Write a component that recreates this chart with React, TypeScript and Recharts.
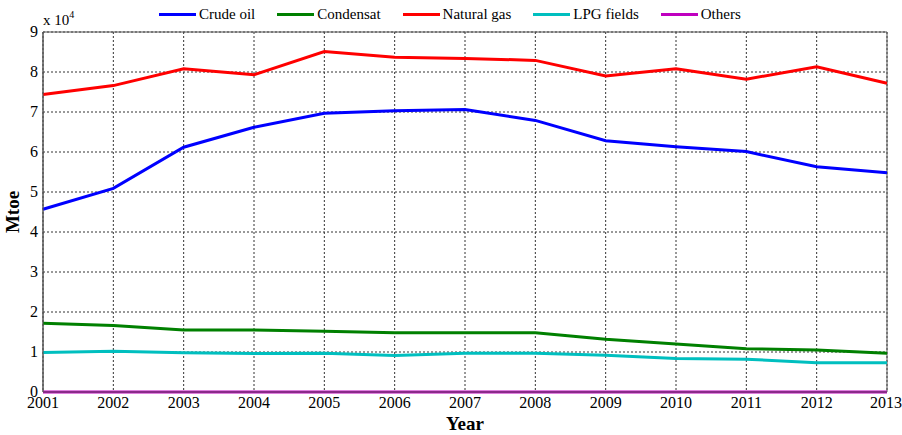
import React from "react";
import { LineChart, Line, XAxis, YAxis, CartesianGrid, ReferenceArea } from "recharts";

const years = [2001, 2002, 2003, 2004, 2005, 2006, 2007, 2008, 2009, 2010, 2011, 2012, 2013];
const crudeOil = [45700, 50900, 61200, 66200, 69700, 70300, 70600, 67900, 62800, 61300, 60100, 56300, 54800];
const condensat = [17200, 16600, 15500, 15500, 15200, 14800, 14800, 14800, 13200, 12000, 10800, 10500, 9700];
const naturalGas = [74400, 76600, 80800, 79300, 85100, 83700, 83400, 82900, 79000, 80800, 78200, 81300, 77200];
const lpgFields = [9900, 10200, 9800, 9600, 9700, 9100, 9700, 9700, 9200, 8400, 8200, 7300, 7300];
const others = [0, 0, 0, 0, 0, 0, 0, 0, 0, 0, 0, 0, 0];
const yTicks = [0, 10000, 20000, 30000, 40000, 50000, 60000, 70000, 80000, 90000];

const series = [
  { key: "crude", name: "Crude oil", color: "#0000FF", values: crudeOil },
  { key: "cond", name: "Condensat", color: "#008000", values: condensat },
  { key: "gas", name: "Natural gas", color: "#FF0000", values: naturalGas },
  { key: "lpg", name: "LPG fields", color: "#00BFBF", values: lpgFields },
  { key: "others", name: "Others", color: "#BF00BF", values: others },
];

const data = years.map((y, i) => {
  const row: Record<string, number> = { year: y };
  series.forEach((s) => (row[s.key] = s.values[i]));
  return row;
});

const FONT = "Liberation Serif, Times New Roman, serif";

const XTick = (props: any) => {
  const { x, y, payload } = props;
  return (
    <text x={x} y={y + 16} textAnchor="middle" fontFamily={FONT} fontSize={16} fill="#000">
      {payload.value}
    </text>
  );
};

const YTick = (props: any) => {
  const { x, y, payload } = props;
  return (
    <text x={x - 1} y={y + 5} textAnchor="end" fontFamily={FONT} fontSize={16} fill="#000">
      {String(payload.value / 10000)}
    </text>
  );
};

export default function App() {
  return (
    <div style={{ position: "absolute", left: 0, top: 0, width: 902, height: 435, background: "#fff", fontFamily: FONT }}>
      <LineChart width={902} height={435} data={data} margin={{ top: 32, right: 15, left: 0, bottom: 0 }}>
        <CartesianGrid stroke="#333" strokeDasharray="2 2" strokeWidth={1} />
        <ReferenceArea x1={2001} x2={2013} y1={0} y2={90000} fill="none" stroke="#555" strokeWidth={1} ifOverflow="visible" />
        <XAxis
          dataKey="year"
          type="number"
          domain={[2001, 2013]}
          ticks={years}
          height={43}
          tickSize={0}
          tickMargin={0}
          axisLine={{ stroke: "#555" }}
          tick={<XTick />}
          label={{ value: "Year", position: "insideBottom", offset: 5, style: { fontFamily: FONT, fontSize: 19, fontWeight: "bold", fill: "#000" } }}
        />
        <YAxis
          type="number"
          domain={[0, 90000]}
          ticks={yTicks}
          width={43}
          tickSize={0}
          tickMargin={4}
          interval={0}
          axisLine={{ stroke: "#555" }}
          tick={<YTick />}
          label={{ value: "Mtoe", angle: -90, position: "insideLeft", offset: 12, style: { fontFamily: FONT, fontSize: 19, fontWeight: "bold", fill: "#000", textAnchor: "middle" } }}
        />
        {series.map((s) => (
          <Line key={s.key} dataKey={s.key} name={s.name} stroke={s.color} strokeWidth={3} dot={false} isAnimationActive={false} />
        ))}
        <text x={43} y={25} fontFamily={FONT} fontSize={15} fill="#000">
          x 10<tspan dy={-7} fontSize={10}>4</tspan>
        </text>
      </LineChart>
      <div style={{ position: "absolute", left: 159, top: 5, display: "flex", fontFamily: FONT, fontSize: 15, color: "#000", lineHeight: "18px" }}>
        {series.map((s) => (
          <div key={s.key} style={{ display: "flex", alignItems: "center", marginRight: 22 }}>
            <div style={{ width: 37, height: 3, background: s.color, marginRight: 3 }} />
            <span>{s.name}</span>
          </div>
        ))}
      </div>
    </div>
  );
}
